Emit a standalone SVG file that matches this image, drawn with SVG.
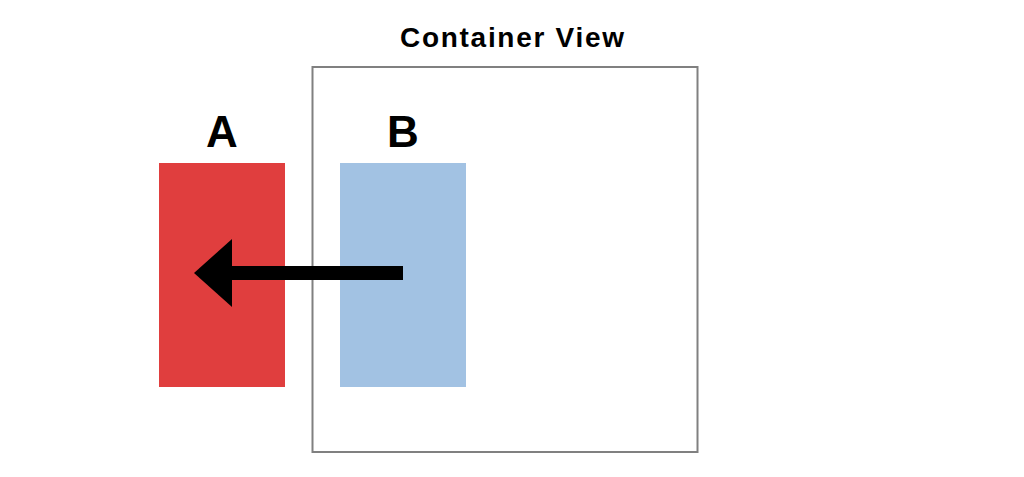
<svg xmlns="http://www.w3.org/2000/svg" width="1024" height="477" viewBox="0 0 1024 477">
<style>
.lbl{font-family:"Liberation Sans",Arial,sans-serif;font-weight:bold;fill:#000;text-anchor:middle}
</style>
<rect width="1024" height="477" fill="#fff"/>
<g id="container">
<rect x="312.5" y="67" width="385" height="385" fill="none" stroke="#808080" stroke-width="2"/>
<text class="lbl" x="512" y="47" font-size="28" textLength="224" lengthAdjust="spacing">Container View</text>
</g>
<g id="A">
<rect x="159" y="163" width="126" height="224" fill="#e03e3e"/>
<text class="lbl" x="222" y="147" font-size="44">A</text>
</g>
<g id="B">
<rect x="340" y="163" width="126" height="224" fill="#a2c2e3"/>
<text class="lbl" x="403" y="147" font-size="44">B</text>
</g>
<g id="connectors">
<rect x="228" y="266" width="175" height="14" fill="#000"/>
<polygon points="194,273 232,239 232,307" fill="#000"/>
</g>
</svg>
